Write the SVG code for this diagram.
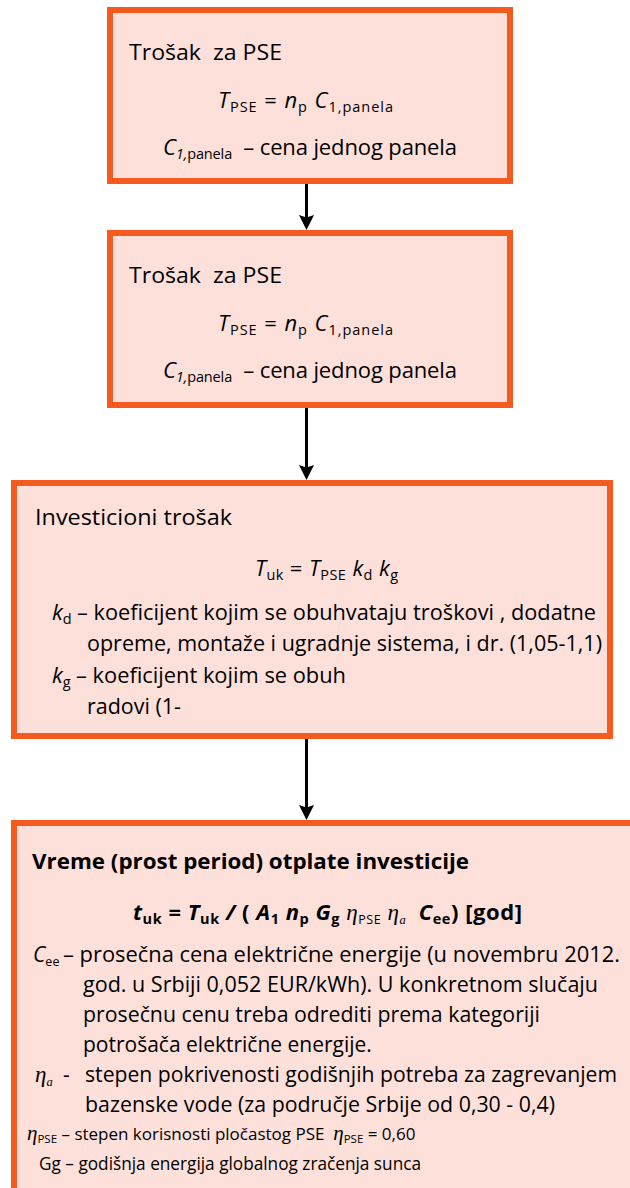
<svg xmlns="http://www.w3.org/2000/svg" width="630" height="1188" viewBox="0 0 630 1188">
<style>
text{font-family:"Open Sans","Noto Sans",sans-serif;fill:#000;}
.box{fill:#FDE0DA;stroke:#F55B1E;stroke-width:6;}
.t{font-size:22px;}
.b{font-size:21px;}
.s{font-size:19px;}
.sub{font-size:14.5px;}
.ssub{font-size:12.5px;}
.i{font-style:italic;}
.bold{font-weight:bold;}
.eta{font-family:"Liberation Serif","DejaVu Serif",serif;font-style:italic;font-weight:normal;}
.conn{stroke:#000;stroke-width:3;fill:none;}
</style>
<defs>
<marker id="ah" markerUnits="userSpaceOnUse" markerWidth="16" markerHeight="16" refX="7" refY="7.5" orient="auto">
<path d="M0,0 L15,7.5 L0,15 L2.5,7.5 Z" fill="#000"/>
</marker>
</defs>

<g id="connectors">
<line class="conn" x1="306.5" y1="184" x2="306.5" y2="222" marker-end="url(#ah)"/>
<line class="conn" x1="306.5" y1="408" x2="306.5" y2="472" marker-end="url(#ah)"/>
<line class="conn" x1="306.5" y1="739" x2="306.5" y2="812" marker-end="url(#ah)"/>
</g>

<g id="node1">
<rect class="box" x="110" y="10" width="400" height="171"/>
<text class="t" x="129" y="60" xml:space="preserve" textLength="153" lengthAdjust="spacingAndGlyphs">Trošak  za PSE</text>
<text class="t" x="218" y="108" xml:space="preserve" textLength="175" lengthAdjust="spacing"><tspan class="i">T</tspan><tspan class="sub" dy="4">PSE</tspan><tspan dy="-4"> = </tspan><tspan class="i">n</tspan><tspan class="sub" dy="4">p</tspan><tspan dy="-4"> </tspan><tspan class="i">C</tspan><tspan class="sub" dy="4">1,panela</tspan></text>
<text class="t" x="163" y="155" xml:space="preserve" textLength="294" lengthAdjust="spacing"><tspan class="i">C</tspan><tspan class="sub i" dy="4">1,</tspan><tspan class="sub">panela</tspan><tspan dy="-4">  – cena jednog panela</tspan></text>
</g>

<g id="node2">
<rect class="box" x="110" y="233" width="400" height="172"/>
<text class="t" x="129" y="283" xml:space="preserve" textLength="153" lengthAdjust="spacingAndGlyphs">Trošak  za PSE</text>
<text class="t" x="218" y="331" xml:space="preserve" textLength="175" lengthAdjust="spacing"><tspan class="i">T</tspan><tspan class="sub" dy="4">PSE</tspan><tspan dy="-4"> = </tspan><tspan class="i">n</tspan><tspan class="sub" dy="4">p</tspan><tspan dy="-4"> </tspan><tspan class="i">C</tspan><tspan class="sub" dy="4">1,panela</tspan></text>
<text class="t" x="163" y="378" xml:space="preserve" textLength="294" lengthAdjust="spacing"><tspan class="i">C</tspan><tspan class="sub i" dy="4">1,</tspan><tspan class="sub">panela</tspan><tspan dy="-4">  – cena jednog panela</tspan></text>
</g>

<g id="node3">
<rect class="box" x="14" y="483" width="596" height="253"/>
<text class="t" x="35" y="525" textLength="197" lengthAdjust="spacingAndGlyphs">Investicioni trošak</text>
<text class="t" x="255" y="576" xml:space="preserve" textLength="143" lengthAdjust="spacing"><tspan class="i">T</tspan><tspan class="sub" dy="4">uk</tspan><tspan dy="-4"> = </tspan><tspan class="i">T</tspan><tspan class="sub" dy="4">PSE</tspan><tspan dy="-4"> </tspan><tspan class="i">k</tspan><tspan class="sub" dy="4">d</tspan><tspan dy="-4"> </tspan><tspan class="i">k</tspan><tspan class="sub" dy="4">g</tspan></text>
<text class="t" x="52" y="620"><tspan class="i">k</tspan><tspan class="sub" dy="4">d</tspan></text>
<text class="b" x="77" y="620" textLength="519" lengthAdjust="spacingAndGlyphs">– koeficijent kojim se obuhvataju troškovi , dodatne</text>
<text class="b" x="87" y="651" textLength="515" lengthAdjust="spacingAndGlyphs">opreme, montaže i ugradnje sistema, i dr. (1,05-1,1)</text>
<text class="t" x="52" y="683"><tspan class="i">k</tspan><tspan class="sub" dy="4">g</tspan></text>
<text class="b" x="76" y="683" textLength="270" lengthAdjust="spacingAndGlyphs">– koeficijent kojim se obuh</text>
<text class="b" x="87" y="714" textLength="94" lengthAdjust="spacingAndGlyphs">radovi (1-</text>
</g>

<g id="node4">
<rect class="box" x="14" y="823" width="630" height="380"/>
<text class="b bold" x="32" y="869" textLength="437" lengthAdjust="spacingAndGlyphs">Vreme (prost period) otplate investicije</text>
<text class="t bold" x="133" y="920" xml:space="preserve" textLength="389" lengthAdjust="spacing"><tspan class="i">t</tspan><tspan class="sub" dy="4">uk</tspan><tspan dy="-4"> = </tspan><tspan class="i">T</tspan><tspan class="sub" dy="4">uk</tspan><tspan dy="-4"> </tspan><tspan class="i">/</tspan><tspan> ( </tspan><tspan class="i">A</tspan><tspan class="sub" dy="4">1</tspan><tspan dy="-4"> </tspan><tspan class="i">n</tspan><tspan class="sub" dy="4">p</tspan><tspan dy="-4"> </tspan><tspan class="i">G</tspan><tspan class="sub" dy="4">g</tspan><tspan dy="-4"> </tspan><tspan class="eta" font-size="23">η</tspan><tspan class="ssub" font-weight="normal" dy="4">PSE</tspan><tspan dy="-4"> </tspan><tspan class="eta" font-size="23">η</tspan><tspan class="ssub eta" dy="4">a</tspan><tspan dy="-4">  </tspan><tspan class="i">C</tspan><tspan class="sub" dy="4">ee</tspan><tspan dy="-4">) [god]</tspan></text>

<text class="b" x="33" y="962"><tspan class="i">C</tspan><tspan class="ssub" dy="4">ee</tspan></text>
<text class="b" x="63" y="962" textLength="557" lengthAdjust="spacingAndGlyphs">– prosečna cena električne energije (u novembru 2012.</text>
<text class="b" x="83" y="992" textLength="515" lengthAdjust="spacingAndGlyphs">god. u Srbiji 0,052 EUR/kWh). U konkretnom slučaju</text>
<text class="b" x="83" y="1022" textLength="457" lengthAdjust="spacingAndGlyphs">prosečnu cenu treba odrediti prema kategoriji</text>
<text class="b" x="83" y="1052">potrošača električne energije.</text>
<text class="b" x="35" y="1082"><tspan class="eta" font-size="23">η</tspan><tspan class="ssub eta" dy="4">a</tspan></text>
<text class="b" x="63" y="1082">-</text>
<text class="b" x="85" y="1082" textLength="532" lengthAdjust="spacingAndGlyphs">stepen pokrivenosti godišnjih potreba za zagrevanjem</text>
<text class="b" x="85" y="1112" textLength="470" lengthAdjust="spacingAndGlyphs">bazenske vode (za područje Srbije od 0,30 - 0,4)</text>
<text x="27" y="1140" font-size="17" xml:space="preserve"><tspan class="eta" font-size="21">η</tspan><tspan font-size="11.5" dy="3">PSE</tspan><tspan dy="-3"> – stepen korisnosti pločastog PSE  </tspan><tspan class="eta" font-size="21">η</tspan><tspan font-size="11.5" dy="3">PSE</tspan><tspan dy="-3"> = 0,60</tspan></text>
<text class="s" x="39" y="1170" textLength="382" lengthAdjust="spacingAndGlyphs">Gg – godišnja energija globalnog zračenja sunca</text>
</g>
</svg>
